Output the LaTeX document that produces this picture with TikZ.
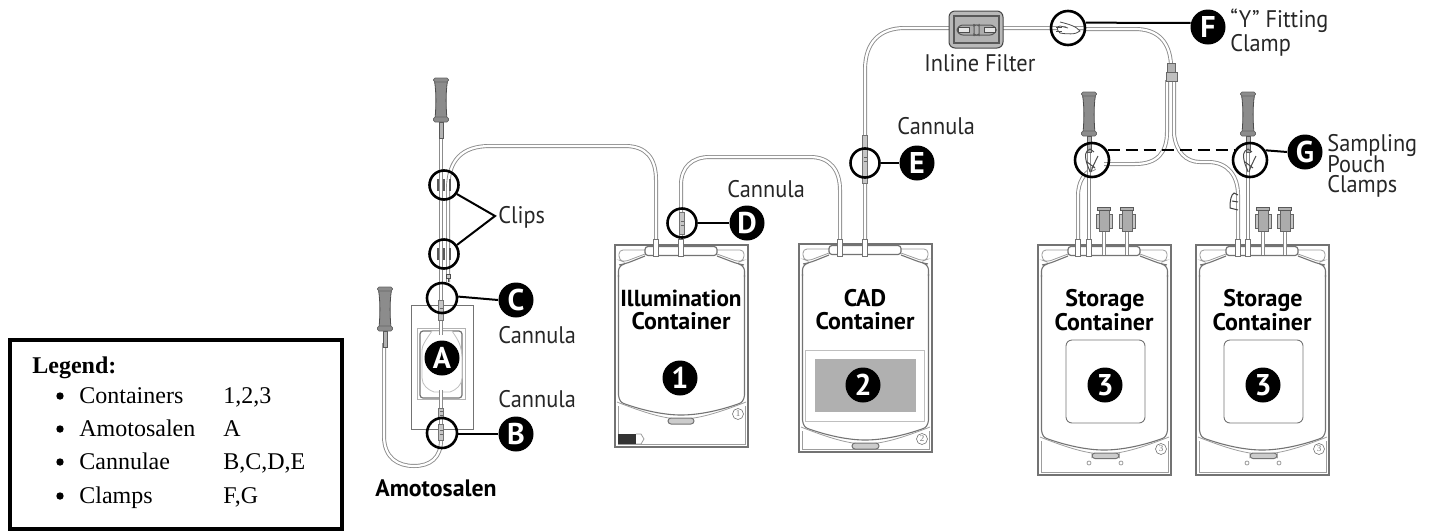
\documentclass[tikz,border=0pt]{standalone}
\usepackage{fontspec}
\setmainfont{Liberation Serif}
\newfontfamily\lab{PT Sans}
\newfontfamily\labn[FakeStretch=0.93]{PT Sans}
\usetikzlibrary{calc}
\definecolor{tubeg}{gray}{0.55}
\definecolor{bagg}{gray}{0.45}
\definecolor{handg}{gray}{0.55}
\tikzset{
  tube/.style={draw=tubeg,line width=.45pt,double=white,double distance=1.1pt},
  bagline/.style={draw=bagg,line width=.55pt},
  bagthin/.style={draw=bagg!70,line width=.4pt},
  ring/.style={circle,draw=black,line width=1.3pt,inner sep=0pt,minimum size=#1},
  ring/.default=15pt,
  badge/.style={circle,fill=black,text=white,inner sep=0pt,minimum size=17.5pt,font=\lab\bfseries\fontsize{15}{15}\selectfont},
  num/.style={badge,minimum size=17.5pt},
  leader/.style={draw=black,line width=1pt},
  caption/.style={anchor=base west,inner sep=0pt,font=\labn\fontsize{12}{12}\selectfont,text=black!85},
  bagtitle/.style={anchor=base,inner sep=0pt,font=\lab\bfseries\fontsize{12}{13}\selectfont},
  legendtext/.style={anchor=base west,inner sep=0pt,font=\fontsize{12}{14}\selectfont},
  smallnum/.style={circle,draw=bagg,line width=.3pt,inner sep=0pt,minimum size=5.5pt,font=\fontsize{4.5}{5}\selectfont,text=bagg},
}
% #1 name, #2 x, #3 y, #4 height, #5 lowest point of the body, #6 small number
\newcommand{\bagshape}[6]{%
\begin{scope}[shift={(#2,#3)}]
  \draw[bagline,line width=.9pt] (0,0) rectangle (133,#4);
  \draw[bagthin] (3,#5-9) -- (3,#4-3) -- (130,#4-3) -- (130,#5-9);
  \draw[bagline,rounded corners=3pt] (3.5,32) -- (3.5,20) -- (10,19) -- (30,11);
  \draw[bagline,rounded corners=3pt] (129.5,32) -- (129.5,20) -- (123,19) -- (102,11);
  \draw[bagthin,rounded corners=2pt] (30,5) -- (4,5) -- (4,15) -- (9,17) -- (30,9);
  \draw[bagthin,rounded corners=2pt] (102,5) -- (129,5) -- (129,15) -- (124,17) -- (102,9);
  \draw[bagline] (3.5,30) -- (3.5,#5-20) .. controls (4,#5-15) and (6,#5-12) .. (10,#5-11)
     .. controls (30,#5-4) and (50,#5) .. (66,#5) .. controls (83,#5) and (103,#5-4) .. (123,#5-11)
     .. controls (127,#5-12) and (129,#5-15) .. (129.5,#5-20) -- (129.5,30);
  \draw[bagthin] (2,#5-13) .. controls (30,#5-2) and (50,#5+4) .. (66,#5+4) .. controls (83,#5+4) and (103,#5-2) .. (131,#5-13);
  \draw[draw=bagg,fill=white,line width=.6pt,rounded corners=1.5pt] (30,1.5) rectangle (102,10.5);
  \node[smallnum] (#1small) at (123,#5-1) {#6};
\end{scope}}
% grey handle: #1 x of axis, #2 y of top
\newcommand{\handle}[2]{%
\begin{scope}[shift={(#1,#2)}]
  \draw[draw=black!70,fill=handg,line width=.4pt] (-6.5,3) .. controls (-4.5,15) and (-5,30) .. (-6,41) -- (6,41) .. controls (5,30) and (4.5,15) .. (6.5,3) -- cycle;
  \draw[draw=black!60,fill=handg,line width=.4pt,rounded corners=.8pt] (-7.5,0) rectangle (7.5,4);
  \draw[draw=black!60,fill=handg,line width=.4pt,rounded corners=.8pt] (-7.5,39) rectangle (7.5,44);
  \draw[draw=black!65,fill=gray!60,line width=.3pt] (-2,44) rectangle (2,60);
\end{scope}}
% cannula piece on a tube
\newcommand{\cann}[3]{%
  \draw[draw=black!55,fill=gray!45,line width=.3pt] (#1-2.5,#2-#3) rectangle (#1+2.5,#2+#3);
  \draw[black!60,line width=.4pt] (#1-1.5,#2-2) -- (#1+1.5,#2-2) (#1-1.5,#2+2) -- (#1+1.5,#2+2);}
% three bars of a clip
\newcommand{\clipbars}[2]{%
  \foreach \dx in {-6,0,6} {\draw[gray!70!black,line width=.9pt] (#1+\dx,#2-6) -- (#1+\dx,#2+6);}}
% storage cap
\newcommand{\scap}[1]{%
  \draw[tube] (#1,231) -- (#1,255);
  \draw[draw=black!60,fill=gray!45,line width=.3pt] (#1-8,214) rectangle (#1+8,228);
  \draw[draw=black!60,fill=gray!65,line width=.3pt] (#1-5,209) rectangle (#1+5,231);
  \draw[draw=black!65,fill=gray!60,line width=.3pt] (#1-6.5,207) rectangle (#1+6.5,210);}
\begin{document}
\begin{tikzpicture}[x=.5pt,y=-.5pt]
\useasboundingbox (0,0) rectangle (1431,531);
% ---------- legend
\draw[black,line width=2pt] (10,340) rectangle (342,529);
\node[legendtext,font=\fontsize{12}{14}\selectfont\bfseries] (legtitle) at (32,373) {Legend:};
\foreach \nm/\yy/\ta/\tb in {a/403/Containers/{1,2,3},b/436/Amotosalen/A,c/469/Cannulae/{B,C,D,E},d/503/Clamps/{F,G}} {
  \fill[black] (60,\yy-7) circle (3.7);
  \node[legendtext] (leg\nm) at (79,\yy) {\ta};
  \node[legendtext] (val\nm) at (223,\yy) {\tb};
}
% ---------- tubes
\draw[tube] (384,343) -- (384,436) .. controls (384,458) and (398,466) .. (414,466) .. controls (430,466) and (441,458) .. (441,440);
\draw[tube] (441,138) -- (441,305);
\draw[tube] (448,282) -- (448,190) .. controls (448,160) and (462,146) .. (490,146) -- (625,146) .. controls (646,146) and (656,158) .. (656,180) -- (656,255);
\draw[tube] (681,255) -- (681,185) .. controls (681,167) and (692,157) .. (710,157) -- (810,157) .. controls (830,157) and (840,170) .. (840,190) -- (840,255);
\draw[tube] (865,255) -- (865,70) .. controls (865,42) and (880,28) .. (905,28) -- (1085,28);
\draw[tube] (1085,29) -- (1135,29) .. controls (1158,29) and (1170,42) .. (1171,65);
\draw[tube] (1167,80) -- (1167,132) .. controls (1167,152) and (1158,164) .. (1135,164) -- (1104,164);
\draw[tube] (1174,80) -- (1174,134) .. controls (1176,152) and (1186,162) .. (1200,162) -- (1208,162) .. controls (1228,162) and (1238,176) .. (1238,195) -- (1238,255);
\draw[tube] (1078,255) -- (1078,196) .. controls (1078,182) and (1084,172) .. (1095,168);
\draw[tube] (1089,152) -- (1089,255);
\draw[tube] (1248,152) -- (1248,255);
% ---------- containers
\bagshape{ill}{615}{245}{202}{170}{1}
\bagshape{cad}{799}{244}{208}{196}{2}
\bagshape{stA}{1038}{245}{230}{205}{3}
\bagshape{stB}{1196}{245}{230}{205}{3}
% port stubs
\foreach \px/\py in {656/255,681/255,840/255,865/255,1078/255,1089/255,1238/255,1248/255} {
  \draw[draw=bagg,fill=white,line width=.4pt] (\px-2.5,\py-16) rectangle (\px+2.5,\py+1);
}
\foreach \cx in {1104,1127,1263,1285} { \scap{\cx} }
% ---------- illumination container contents
\node[bagtitle,font=\lab\bfseries\fontsize{11.6}{13}\selectfont] (illa) at (681,306) {Illumination};
\node[bagtitle] (illb) at (681,329) {Container};
\node[num] (n1) at (680,378) {1};
\draw[draw=bagg,fill=gray!40,line width=.5pt,rounded corners=1.5pt] (668,418) rectangle (694,424);
\fill[black!80] (618,434) rectangle (636,444);
\draw[bagthin] (636,434) -- (641,434) -- (644,439) -- (641,444) -- (636,444);
% ---------- CAD contents
\node[bagtitle] (cada) at (865,306) {CAD};
\node[bagtitle] (cadb) at (865,329) {Container};
\draw[draw=gray!50,line width=.5pt] (805,350) rectangle (924,421);
\fill[gray!62] (815,359) rectangle (916,412);
\node[num] (n2) at (863,385) {2};
\draw[draw=bagg,fill=gray!40,line width=.5pt,rounded corners=1.5pt] (852,443) rectangle (879,449);
% ---------- storage contents
\foreach \nm/\xx in {p/1038,q/1196} {
  \node[bagtitle] (st\nm a) at (\xx+67,306) {Storage};
  \node[bagtitle] (st\nm b) at (\xx+66,330) {Container};
  \draw[draw=bagg,line width=.45pt,rounded corners=3pt] (\xx+28,340) rectangle (\xx+107,423);
  \node[num] (n3\nm) at (\xx+67,385) {3};
  \draw[draw=bagg,fill=gray!40,line width=.5pt,rounded corners=1.5pt] (\xx+54,453) rectangle (\xx+81,458.5);
  \draw[bagthin] (\xx+51,463) circle (2);
  \draw[bagthin] (\xx+83,463) circle (2);
}
% ---------- amotosalen unit
\draw[draw=bagg,line width=.5pt,fill=white] (411,305) rectangle (473,429);
\draw[draw=gray!60,line width=.5pt] (417,328) rectangle (465,399);
\draw[draw=bagg,line width=.6pt,fill=white,rounded corners=1.5pt] (420,331) rectangle (462,398);
\draw[draw=gray!50,line width=.4pt,fill=white] (432,331) -- (452,331) .. controls (458,340) and (462,345) .. (462,360) -- (462,378) .. controls (462,385) and (456,390) .. (450,392) -- (434,392) .. controls (428,390) and (422,385) .. (422,378) -- (422,350) .. controls (422,345) and (426,340) .. (432,331) -- cycle;
\draw[tube] (441,305) -- (441,335);
\draw[tube] (441,390) -- (441,440);
\cann{441}{310}{10}
\cann{441}{413}{5}
\cann{441}{432}{8}
% ---------- hardware on tubes
\handle{441}{78}
\handle{385}{287}
\handle{1089}{92}
\handle{1248}{92}
\draw[draw=black!70,line width=.5pt] (448,282) -- (448,278);
\draw[draw=black!70,fill=gray!40,line width=.3pt] (446,274) rectangle (450,278);
\clipbars{444}{185}
\clipbars{444}{254}
\cann{682}{223}{11}
\cann{865}{159}{24}
\draw[draw=black!60,fill=gray!60,line width=.3pt] (1167,63) rectangle (1175,72);
\draw[draw=black!60,fill=gray!50,line width=.3pt] (1166,72) rectangle (1177,81);
% filter
\draw[draw=gray!55!black,fill=gray!55,line width=.5pt,rounded corners=3pt] (949,11) rectangle (1003,48);
\draw[draw=black!65,fill=gray!60,line width=.7pt] (954,16) rectangle (999,43);
\draw[draw=black!65,fill=gray!65,line width=.5pt,rounded corners=3pt] (957,25) -- (970,25) .. controls (973,25) and (974,28) .. (974,30) .. controls (974,32) and (973,35) .. (970,35) -- (957,35) -- cycle;
\draw[draw=black!65,fill=gray!65,line width=.5pt,rounded corners=3pt] (996,25) -- (983,25) .. controls (980,25) and (979,28) .. (979,30) .. controls (979,32) and (980,35) .. (983,35) -- (996,35) -- cycle;
\draw[draw=black!70,fill=gray!20,line width=.4pt] (958,27.5) rectangle (969,32);
\draw[draw=black!70,fill=gray!20,line width=.4pt] (984,27.5) rectangle (995,32);
% clamp glyphs
\draw[black!70,line width=.4pt,fill=white] (1060,22) .. controls (1068,24) and (1076,26) .. (1080,31) .. controls (1076,35) and (1066,34) .. (1060,33) .. controls (1056,30) and (1057,26) .. (1060,26) -- (1068,28);
\draw[black!70,line width=.4pt] (1056,27) -- (1062,27) (1056,31) -- (1062,31);
\foreach \gx in {1092,1250} {
  \draw[black!70,line width=.5pt] (\gx-2,149) .. controls (\gx-7,151) and (\gx-7,156) .. (\gx-6,160) .. controls (\gx-5,166) and (\gx-2,170) .. (\gx-2,172);
  \draw[black!70,line width=.5pt] (\gx+6,156) .. controls (\gx+3,162) and (\gx,168) .. (\gx-1,172) (\gx-5,162) -- (\gx+3,168) (\gx-2,149) -- (\gx+2,152);
}
% sampling loop
\draw[black!75,line width=.5pt] (1238,195) -- (1234,193) .. controls (1231,195) and (1230,200) .. (1230,208) -- (1238,210) (1232,201) -- (1238,202);
% ---------- rings
\node[ring=14.5pt] (rClipa) at (444,185) {};
\node[ring=14.5pt] (rClipb) at (444,254) {};
\node[ring] (rC) at (442,298) {};
\node[ring] (rB) at (442,433) {};
\node[ring=14.5pt] (rD) at (682,223) {};
\node[ring=14.5pt] (rE) at (865,163) {};
\node[ring=17pt] (rF) at (1068,28) {};
\node[ring=17pt] (rGa) at (1092,160) {};
\node[ring=17pt] (rGb) at (1250,160) {};
% ---------- badges
\node[badge] (lA) at (442,358) {A};
\node[badge] (lB) at (516,434) {B};
\node[badge] (lC) at (516,300) {C};
\node[badge] (lD) at (747,223) {D};
\node[badge] (lE) at (917,163) {E};
\node[badge] (lF) at (1208,27) {F};
\node[badge] (lG) at (1305,152) {G};
% ---------- leaders
\coordinate (clipfork) at (495,216);
\draw[leader] (rClipa.-35) -- (clipfork) -- (rClipb.35);
\draw[leader] (rC.5) -- (lC.west);
\draw[leader] (rB) ++(15,1) -- (lB.west);
\draw[leader] (rD.east) -- (lD.west);
\draw[leader] (rE.east) -- (lE.west);
\draw[leader] (rF.17) -- (lF.167);
\draw[leader] (rGb.32) -- (lG.west);
\draw[leader,dash pattern=on 6pt off 3pt,line width=.85pt] (rGa.32) -- (rGb.148);
% ---------- captions
\node[caption] (tClips) at (498,223) {Clips};
\node[caption] (tCanC) at (498,343) {Cannula};
\node[caption] (tCanB) at (498,407) {Cannula};
\node[caption] (tCanD) at (727,197) {Cannula};
\node[caption] (tCanE) at (897,134) {Cannula};
\node[caption] (tFilter) at (924,71) {Inline Filter};
\node[caption] (tY) at (1230,27) {“Y” Fitting};
\node[caption] (tClamp) at (1230,51) {Clamp};
\node[caption] (tSa) at (1327,151) {Sampling};
\node[caption] (tSb) at (1327,172) {Pouch};
\node[caption] (tSc) at (1327,192) {Clamps};
\node[caption,font=\lab\bfseries\fontsize{11.9}{12}\selectfont,text=black] (tAmo) at (375,496) {Amotosalen};
\end{tikzpicture}
\end{document}
